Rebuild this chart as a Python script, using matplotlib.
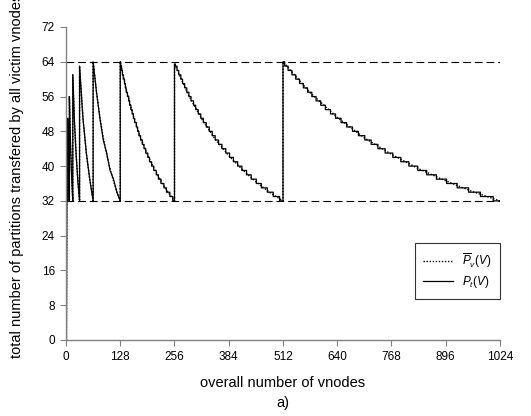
import matplotlib
matplotlib.use('Agg')
import matplotlib.pyplot as plt

plt.rcParams['font.family'] = ['Liberation Sans', 'DejaVu Sans']
plt.rcParams['mathtext.fontset'] = 'custom'
plt.rcParams['mathtext.rm'] = 'Liberation Sans'
plt.rcParams['mathtext.it'] = 'Liberation Sans:italic'

# average number of partitions (dotted curve)
avg_v = [1, 2, 4, 4, 5, 6, 7, 8, 8, 10, 12, 14, 16, 16, 20, 24, 28, 32,
         32, 40, 48, 56, 64, 64, 72, 80, 88, 96, 104, 112, 120, 128,
         128, 144, 160, 176, 192, 208, 224, 240, 256,
         256, 288, 320, 352, 384, 416, 448, 480, 512,
         512, 576, 640, 704, 768, 832, 896, 960, 1024]
avg_p = [0, 32, 32, 51, 44, 39, 35, 32, 56, 47, 41, 36, 32, 61, 50, 42.5, 36.5, 32,
         63, 51, 43, 37, 32, 64, 57, 51.2, 46.5, 42.7, 39.4, 36.6, 34.1, 32,
         64, 56.9, 51.2, 46.5, 42.7, 39.4, 36.6, 34.1, 32,
         63.5, 56.5, 50.9, 46.2, 42.4, 39.2, 36.4, 34, 32,
         64, 56.9, 51.2, 46.5, 42.7, 39.4, 36.6, 34.1, 32]

# transferred partitions (solid), small rounds where the steps are too fine to see
head_v = [1, 2, 4, 4, 5, 6, 7, 8, 8, 10, 12, 14, 16, 16, 20, 24, 28, 32,
          32, 40, 48, 56, 64, 64, 72, 80, 88, 96, 104, 112, 120, 128]
head_p = [0, 32, 32, 51, 44, 39, 35, 32, 56, 47, 41, 36, 32, 61, 50, 42.5, 36.5, 32,
          63, 51, 43, 37, 32, 64, 57, 51, 46, 43, 39, 37, 34, 32]

# staircase of the three big rounds: level after each break
step_levels = [63, 62, 61, 60, 59, 58, 57, 56, 55, 54, 53, 52, 51, 50, 49, 48,
               47, 46, 45, 44, 43, 42, 41, 40, 39, 38, 37, 36, 35, 34, 33, 32]
round_starts = [128, 256, 512]
round_ends = [256, 512, 1024]
round_peaks = [64, 63.5, 64]
breaks_128 = [129, 131, 133, 135, 138, 140, 142, 145, 148, 150, 153, 156, 159, 162, 166, 169,
              172, 176, 180, 184, 188, 193, 197, 202, 207, 213, 218, 224, 231, 237, 245, 252]
breaks_256 = [258, 262, 266, 271, 275, 280, 285, 290, 295, 301, 306, 312, 318, 324, 331, 338,
              345, 352, 360, 368, 377, 386, 395, 405, 415, 426, 437, 449, 461, 475, 489, 504]
breaks_512 = [516, 524, 533, 542, 551, 560, 570, 580, 590, 601, 612, 624, 636, 649, 662, 676,
              690, 705, 720, 736, 753, 771, 790, 809, 830, 851, 874, 898, 923, 950, 978, 1008]

# build the solid line
sol_v = list(head_v)
sol_p = list(head_p)
for start, end, peak, brk in zip(round_starts, round_ends, round_peaks,
                                 [breaks_128, breaks_256, breaks_512]):
    sol_v.append(start)
    sol_p.append(peak)
    prev = peak
    for b, lvl in zip(brk, step_levels):
        sol_v += [b, b]
        sol_p += [prev, lvl]
        prev = lvl
    sol_v.append(end)
    sol_p.append(prev)

fig = plt.figure(figsize=(5.31, 4.16), dpi=100)
ax = fig.add_axes([0.1243, 0.1827, 0.8173, 0.7524])

for lvl in [32, 64]:
    ax.plot([0, 1024], [lvl, lvl], color='black', lw=0.8, dashes=(7, 3.5))

ax.plot(avg_v, avg_p, color='black', lw=1.0, linestyle=(0, (1, 1.2)), label=r'$\overline{P}_v(V)$')
ax.plot(sol_v, sol_p, color='black', lw=0.9, label=r'$P_t(V)$')

ax.set_xlim(0, 1024)
ax.set_ylim(0, 72)
ax.set_xticks(range(0, 1025, 128))
ax.set_yticks(range(0, 73, 8))
ax.tick_params(direction='out', length=4, width=0.8, color='#808080', labelsize=8.5, pad=4)
for side in ['top', 'right']:
    ax.spines[side].set_visible(False)
for side in ['left', 'bottom']:
    ax.spines[side].set_color('#808080')
    ax.spines[side].set_linewidth(1.0)

ax.set_xlabel('overall number of vnodes', fontsize=10.5)
ax.xaxis.set_label_coords(0.5, -0.115)
ax.set_ylabel('total number of partitions transfered by all victim vnodes', fontsize=10.5)
ax.yaxis.set_label_coords(-0.097, 0.524)
ax.text(0.5, -0.2, 'a)', transform=ax.transAxes, ha='center', va='center', fontsize=10.5)

leg = ax.legend(loc='upper right', bbox_to_anchor=(1.0, 0.31), fontsize=8.5,
                frameon=True, fancybox=False, handlelength=2.5, borderpad=0.7,
                labelspacing=0.35, handletextpad=0.8, borderaxespad=0)
leg.get_frame().set_edgecolor('black')
leg.get_frame().set_linewidth(0.8)

fig.savefig('out.png', dpi=100)
